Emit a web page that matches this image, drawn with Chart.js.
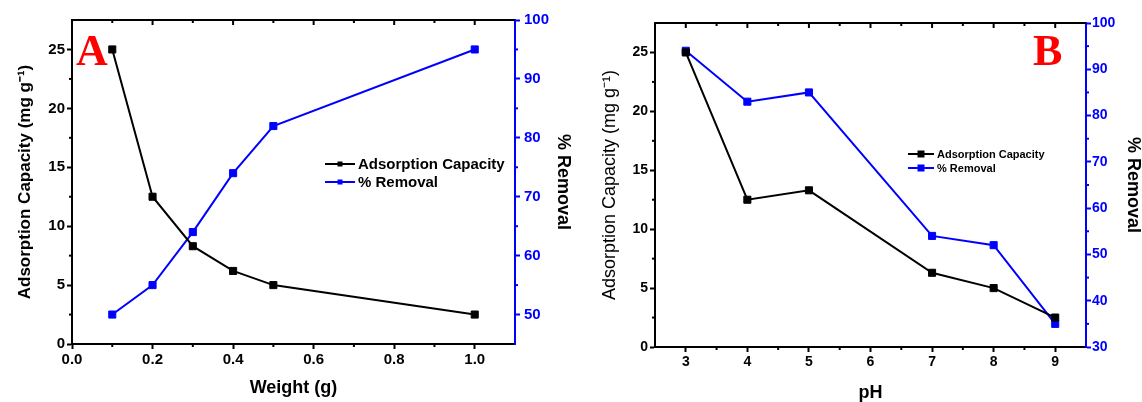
<!DOCTYPE html>
<html>
<head>
<meta charset="utf-8">
<script src="https://cdn.jsdelivr.net/npm/chart.js@4.4.1/dist/chart.umd.min.js"></script>
<style>
  html, body { margin: 0; padding: 0; background: #fff; }
  #wrap { position: relative; width: 1142px; height: 402px; }
  canvas { position: absolute; top: 0; }
</style>
</head>
<body>
<div id="wrap">
  <canvas id="chartA" width="575" height="402" style="left:0"></canvas>
  <canvas id="chartB" width="567" height="402" style="left:575px"></canvas>
</div>
<script>
// panel A: effect of adsorbent weight
const weights = [0.1, 0.2, 0.3, 0.4, 0.5, 1.0];
const capacityA = [25, 12.5, 8.3, 6.2, 5.0, 2.5];
const removalA = [50, 55, 64, 74, 82, 95];

// panel B: effect of pH
const phValues = [3, 4, 5, 7, 8, 9];
const capacityB = [25, 12.5, 13.3, 6.3, 5.0, 2.5];
const removalB = [94, 83, 85, 54, 52, 35];

// tick labels
const weightTicks = [0, 0.2, 0.4, 0.6, 0.8, 1.0];
const phTicks = [3, 4, 5, 6, 7, 8, 9];
const capacityTicks = [0, 5, 10, 15, 20, 25];
const removalTicksA = [50, 60, 70, 80, 90, 100];
const removalTicksB = [30, 40, 50, 60, 70, 80, 90, 100];

const BLUE = '#0000ff';
const FONT = '"Liberation Sans", Arial, sans-serif';

const fixedTicks = list => s => { s.ticks = list.map(v => ({ value: v })); };

// box frame, minor ticks, panel letter and the in-plot legend
const decor = {
  id: 'decor',
  afterDraw(chart, args, o) {
    const ctx = chart.ctx, a = chart.chartArea;
    ctx.save();
    ctx.lineWidth = 2;
    ctx.strokeStyle = '#000';
    ctx.beginPath();
    ctx.moveTo(a.left - 1, a.top);
    ctx.lineTo(a.right, a.top);
    ctx.stroke();

    const near = (v, list) => list.some(t => Math.abs(t.value - v) < 1e-6);
    const tick = (x1, y1, x2, y2) => { ctx.beginPath(); ctx.moveTo(x1, y1); ctx.lineTo(x2, y2); ctx.stroke(); };

    // x: minor ticks bottom (outward), major+minor top (inward)
    const xs = chart.scales.x;
    for (let v = Math.ceil(xs.min / o.minor.x - 1e-6) * o.minor.x; v < xs.max - 1e-6; v += o.minor.x) {
      if (v <= xs.min + 1e-6) continue;
      const px = xs.getPixelForValue(v);
      if (near(v, xs.ticks)) {
        tick(px, a.top, px, a.top + 5);
      } else {
        tick(px, a.bottom, px, a.bottom + 3);
        tick(px, a.top, px, a.top + 3);
      }
    }
    // left y minor ticks
    const ys = chart.scales.y;
    for (let v = o.minor.y; v < ys.max - 1e-6; v += o.minor.y) {
      if (near(v, ys.ticks)) continue;
      const py = ys.getPixelForValue(v);
      tick(a.left, py, a.left - 3, py);
    }
    // right y minor ticks
    const rs = chart.scales.y1;
    ctx.strokeStyle = BLUE;
    for (let v = Math.ceil(rs.min / o.minor.y1) * o.minor.y1; v < rs.max - 1e-6; v += o.minor.y1) {
      if (v <= rs.min + 1e-6 || near(v, rs.ticks)) continue;
      const py = rs.getPixelForValue(v);
      tick(a.right, py, a.right + 3, py);
    }

    // panel letter
    ctx.fillStyle = '#ff0000';
    ctx.font = 'bold 44px "Liberation Serif", "Times New Roman", serif';
    ctx.textBaseline = 'alphabetic';
    ctx.fillText(o.letter.text, o.letter.x, o.letter.y);

    // legend
    const L = o.legend;
    ctx.font = L.font;
    ctx.textBaseline = 'middle';
    chart.data.datasets.forEach((ds, i) => {
      const y = L.y + i * L.gap;
      ctx.strokeStyle = ds.borderColor;
      ctx.lineWidth = 2;
      tick(L.x, y, L.x + L.lineLen, y);
      ctx.fillStyle = ds.backgroundColor;
      const mx = L.x + L.lineLen / 2;
      ctx.fillRect(mx - L.box / 2, y - L.box / 2, L.box, L.box);
      ctx.fillStyle = '#000';
      ctx.fillText(ds.label, L.x + L.lineLen + 3, y + 1);
    });
    ctx.restore();
  }
};

function series(label, xs, ys, color, axis) {
  return {
    label: label,
    data: xs.map((x, i) => ({ x: x, y: ys[i] })),
    yAxisID: axis,
    showLine: true,
    borderColor: color,
    backgroundColor: color,
    borderWidth: 2,
    pointStyle: 'rect',
    pointRadius: 5,
    pointBorderWidth: 1,
    pointBorderColor: color,
  };
}

function makeChart(id, cfg) {
  const tickFont = { family: FONT, size: cfg.tickSize, weight: 'bold' };
  return new Chart(document.getElementById(id), {
    type: 'scatter',
    data: {
      datasets: [
        series('Adsorption Capacity', cfg.xs, cfg.cap, '#000', 'y'),
        series('% Removal', cfg.xs, cfg.rem, BLUE, 'y1'),
      ]
    },
    options: {
      responsive: false,
      animation: false,
      devicePixelRatio: 1,
      layout: { padding: { top: cfg.top, left: 0, right: 0, bottom: 0 } },
      plugins: {
        legend: { display: false },
        tooltip: { enabled: false },
        decor: cfg.decor,
      },
      scales: {
        x: {
          type: 'linear',
          min: cfg.xMin,
          max: cfg.xMax,
          afterBuildTicks: fixedTicks(cfg.xTicks),
          afterFit: s => { s.height = cfg.xHeight; },
          grid: { drawOnChartArea: false, tickLength: 5, tickWidth: 2, tickColor: '#000' },
          border: { color: '#000', width: 2 },
          ticks: { color: '#000', font: tickFont, padding: 2, maxRotation: 0, callback: cfg.xFmt },
          title: {
            display: true, text: cfg.xTitle, color: '#000',
            font: { family: FONT, size: 18, weight: 'bold', lineHeight: 1 },
            padding: { top: 0, bottom: cfg.xTitlePad },
          },
        },
        y: {
          type: 'linear',
          position: 'left',
          min: 0,
          max: 27.5,
          afterBuildTicks: fixedTicks(capacityTicks),
          afterFit: s => { s.width = cfg.leftW; },
          grid: { drawOnChartArea: false, tickLength: 5, tickWidth: 2, tickColor: '#000' },
          border: { color: '#000', width: 2 },
          ticks: { color: '#000', font: tickFont, padding: cfg.leftPad },
          title: {
            display: true, text: 'Adsorption Capacity (mg g\u207B\u00B9)', color: '#000',
            font: { family: FONT, size: cfg.leftTitleSize, weight: cfg.leftTitleWeight, lineHeight: 1 },
            padding: { top: cfg.leftTitlePad, bottom: 0 },
          },
        },
        y1: {
          type: 'linear',
          position: 'right',
          min: cfg.rMin,
          max: 100,
          afterBuildTicks: fixedTicks(cfg.rTicks),
          afterFit: s => { s.width = cfg.rightW; },
          grid: { drawOnChartArea: false, tickLength: 5, tickWidth: 2, tickColor: BLUE },
          border: { color: BLUE, width: 2 },
          ticks: { color: BLUE, font: tickFont, padding: cfg.rightPad },
          title: {
            display: true, text: '% Removal', color: '#000',
            font: { family: FONT, size: 18, weight: 'bold', lineHeight: 1 },
            padding: { top: cfg.rightTitlePad, bottom: 0 },
          },
        },
      }
    },
    plugins: [decor]
  });
}

makeChart('chartA', {
  xs: weights, cap: capacityA, rem: removalA,
  xMin: 0, xMax: 1.1, xTicks: weightTicks, xFmt: v => v.toFixed(1),
  xTitle: 'Weight (g)', xHeight: 58, xTitlePad: 5, tickSize: 15,
  top: 20, leftW: 72, rightW: 60, leftPad: 2, rightPad: 4, rightTitlePad: 3,
  leftTitleSize: 17, leftTitleWeight: 'bold', leftTitlePad: 17,
  rMin: 45, rTicks: removalTicksA,
  decor: {
    minor: { x: 0.1, y: 2.5, y1: 5 },
    letter: { text: 'A', x: 76, y: 65 },
    legend: { x: 325, y: 164, gap: 18, lineLen: 30, box: 5, font: 'bold 15px ' + FONT },
  },
});

makeChart('chartB', {
  xs: phValues, cap: capacityB, rem: removalB,
  xMin: 2.5, xMax: 9.5, xTicks: phTicks, xFmt: v => String(v),
  xTitle: 'pH', xHeight: 55, xTitlePad: 0, tickSize: 14,
  top: 23, leftW: 80, rightW: 56, leftPad: 2, rightPad: 1, rightTitlePad: 0,
  leftTitleSize: 18, leftTitleWeight: 'normal', leftTitlePad: 26,
  rMin: 30, rTicks: removalTicksB,
  decor: {
    minor: { x: 0.5, y: 2.5, y1: 5 },
    letter: { text: 'B', x: 458, y: 65 },
    legend: { x: 333, y: 154, gap: 14, lineLen: 26, box: 7, font: 'bold 11px ' + FONT },
  },
});
</script>
</body>
</html>
